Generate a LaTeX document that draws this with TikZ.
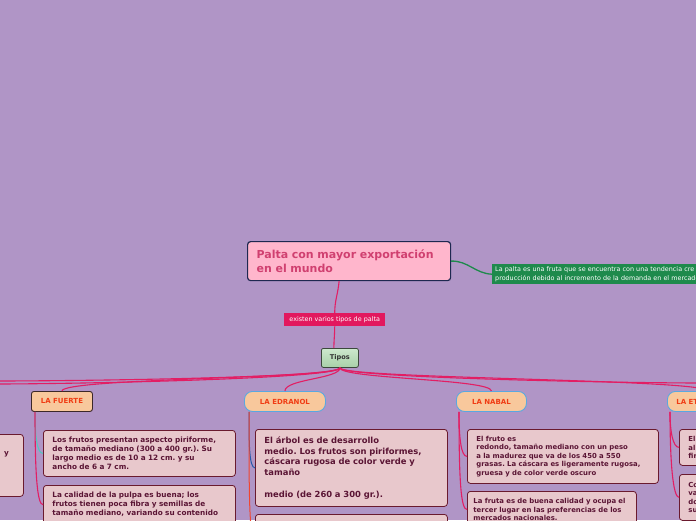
\documentclass[tikz,border=0pt]{standalone}
\usepackage{fontspec}
\setmainfont{DejaVu Sans}
\frenchspacing
\definecolor{bg}{RGB}{176,149,198}
\definecolor{mainpink}{RGB}{255,182,204}
\definecolor{navy}{RGB}{30,40,80}
\definecolor{titlecol}{RGB}{208,64,112}
\definecolor{greenc}{RGB}{30,138,76}
\definecolor{linepink}{RGB}{226,30,100}
\definecolor{lblpink}{RGB}{226,24,94}
\definecolor{peach}{RGB}{248,200,156}
\definecolor{typetext}{RGB}{240,60,20}
\definecolor{typebluec}{RGB}{90,168,224}
\definecolor{typedark}{RGB}{60,40,40}
\definecolor{boxfill}{RGB}{232,200,204}
\definecolor{boxborder}{RGB}{106,26,46}
\definecolor{boxtext}{RGB}{90,20,52}
\definecolor{tealc}{RGB}{80,200,190}
\definecolor{bluec}{RGB}{40,90,170}
\definecolor{orangec}{RGB}{240,70,50}
\definecolor{tipostop}{RGB}{205,232,205}
\definecolor{tiposbot}{RGB}{168,208,168}
\definecolor{tiposborder}{RGB}{60,72,60}
\tikzset{
  pinkline/.style={draw=linepink, line width=1.1pt},
  mainbox/.style={draw=navy, line width=1.2pt, fill=mainpink, rounded corners=3pt, anchor=north west, align=left, inner xsep=9pt, inner ysep=0pt, font=\fontsize{11}{13.5}\selectfont\bfseries, text=titlecol},
  greenbox/.style={fill=greenc, anchor=north west, align=left, inner xsep=3pt, inner ysep=0pt, text=white, font=\fontsize{6.4}{8.8}\selectfont},
  lblbox/.style={fill=lblpink, anchor=north west, inner sep=0pt, text=white, font=\fontsize{6.4}{7}\selectfont},
  tiposbox/.style={draw=tiposborder, line width=0.8pt, top color=tipostop, bottom color=tiposbot, rounded corners=2pt, anchor=north west, inner sep=0pt, font=\fontsize{6.6}{7}\selectfont\bfseries, text=black!80},
  typebox/.style={fill=peach, anchor=north west, minimum height=20pt, inner sep=0pt, font=\fontsize{7}{8}\selectfont\bfseries, text=typetext},
  typeblue/.style={typebox, draw=typebluec, line width=0.9pt, rounded corners=8pt},
  typedarkbox/.style={typebox, draw=typedark, line width=0.9pt, rounded corners=2.5pt},
  infobox/.style={draw=boxborder, line width=0.8pt, fill=boxfill, rounded corners=3pt, anchor=north west, align=left, inner xsep=9pt, inner ysep=0pt, text=boxtext},
  fsmall/.style={font=\fontsize{7.3}{9}\selectfont\bfseries},
  fmid/.style={font=\fontsize{8.4}{10.8}\selectfont\bfseries},
  fnab/.style={font=\fontsize{6.9}{8.4}\selectfont\bfseries},
}
\begin{document}
\begin{tikzpicture}[x=1pt,y=-1pt]
\useasboundingbox (0,0) rectangle (696,520);
\clip (0,0) rectangle (696,520);
\fill[bg] (0,0) rectangle (696,520);

% off-edge coordinates
\coordinate (offL1) at (-6,381);
\coordinate (offL2) at (-6,384);
\coordinate (offR1) at (702,383);

% main
\node[mainbox, text width=185pt, minimum height=39pt] (main) at (247,241) {Palta con mayor exportación\\en el mundo};
\node[greenbox, text width=300pt, minimum height=20pt] (green) at (492,264) {La palta es una fruta que se encuentra con una tendencia cre\\producción debido al incremento de la demanda en el mercado};
\draw[draw=greenc, line width=1.3pt] (main.east) to[out=2,in=178] (green.west);

\node[lblbox, minimum width=101pt, minimum height=13pt] (lbl) at (284,313) {existen varios tipos de palta};
\node[tiposbox, minimum width=37pt, minimum height=19pt] (tipos) at (321,348) {Tipos};
\draw[pinkline] ([xshift=-10pt]main.south) to[out=-95,in=90] (lbl.north);
\draw[pinkline] (lbl.south) to[out=-90,in=90] ([xshift=-6pt]tipos.north);

% types
\node[typedarkbox, minimum width=61pt] (fuerte) at (31,391) {LA FUERTE};
\node[typeblue, minimum width=81pt] (edranol) at (244,391) {LA EDRANOL};
\node[typeblue, minimum width=70pt] (nabal) at (456,391) {LA NABAL};
\node[typeblue, text width=62pt, align=left, inner xsep=9pt] (et) at (667,391) {LA ET};

% branches from Tipos
\draw[pinkline] (tipos.south) .. controls +(0,10) and +(80,0) .. (offL1);
\draw[pinkline] (tipos.south) .. controls +(0,11) and +(80,0) .. (offL2);
\draw[pinkline] (tipos.south) .. controls +(0,11) and +(0,-13) .. (fuerte.north);
\draw[pinkline] (tipos.south) .. controls +(0,11) and +(0,-12) .. (edranol.north);
\draw[pinkline] (tipos.south) .. controls +(0,11) and +(0,-12) .. (nabal.north);
\draw[pinkline] (tipos.south) .. controls +(0,11) and +(0,-12) .. (et.north);
\draw[pinkline] (tipos.south) .. controls +(0,10) and +(-80,0) .. (offR1);

% info boxes
\node[infobox, text width=175pt, minimum height=62pt] (lbox) at (-170,434) {};
\node[text=boxtext, fsmall, anchor=base west, inner sep=0pt] (ltext) at (4,455) {y};

\node[infobox, fsmall, text width=174pt, minimum height=46pt] (f1) at (43,430) {Los frutos presentan aspecto piriforme,\\de tamaño mediano (300 a 400 gr.). Su\\largo medio es de 10 a 12 cm. y su\\ancho de 6 a 7 cm.};
\node[infobox, fsmall, text width=174pt, inner ysep=7pt] (f2) at (43,485) {La calidad de la pulpa es buena; los\\frutos tienen poca fibra y semillas de\\tamaño mediano, variando su contenido};

\node[infobox, fmid, text width=174pt, minimum height=77pt] (e1) at (255,429) {El árbol es de desarrollo\\medio. Los frutos son piriformes,\\cáscara rugosa de color verde y\\tamaño\\[10.8pt]medio (de 260 a 300 gr.).};
\node[infobox, text width=174pt, minimum height=50pt] (e2) at (255,514) {};

\node[infobox, fnab, text width=173pt, minimum height=54pt] (n1) at (467,429) {El fruto es\\redondo, tamaño mediano con un peso\\a la madurez que va de los 450 a 550\\grasas. La cáscara es ligeramente rugosa,\\gruesa y de color verde oscuro};
\node[infobox, fnab, text width=157pt, inner xsep=6pt, inner ysep=7pt] (n2) at (467,491) {La fruta es de buena calidad y ocupa el\\tercer lugar en las preferencias de los\\mercados nacionales.};

\node[infobox, fnab, text width=174pt, minimum height=36pt] (t1) at (679,429) {El\\al\\fir};
\node[infobox, fnab, text width=174pt, minimum height=46pt] (t2) at (679,474) {Co\\va\\do\\su};

% connectors to boxes
\draw[draw=tealc, line width=1pt] ([xshift=4pt]fuerte.south west) .. controls +(0,24) and +(-6,0) .. (f1.west);
\draw[pinkline] ([xshift=4pt]fuerte.south west) .. controls +(0,60) and +(-6,0) .. (f2.west);
\draw[draw=bluec, line width=1pt] ([xshift=5pt]edranol.south west) .. controls +(0,30) and +(-6,0) .. (e1.west);
\draw[draw=orangec, line width=1pt] ([xshift=5pt]edranol.south west) .. controls +(0,80) and +(-6,0) .. (e2.west);
\draw[pinkline] ([xshift=3pt]nabal.south west) .. controls +(0,26) and +(-6,0) .. (n1.west);
\draw[pinkline] ([xshift=3pt]nabal.south west) .. controls +(0,70) and +(-6,0) .. (n2.west);
\draw[pinkline] ([xshift=3pt]et.south west) .. controls +(0,20) and +(-6,0) .. (t1.west);
\draw[pinkline] ([xshift=3pt]et.south west) .. controls +(0,50) and +(-6,0) .. (t2.west);
\end{tikzpicture}
\end{document}
